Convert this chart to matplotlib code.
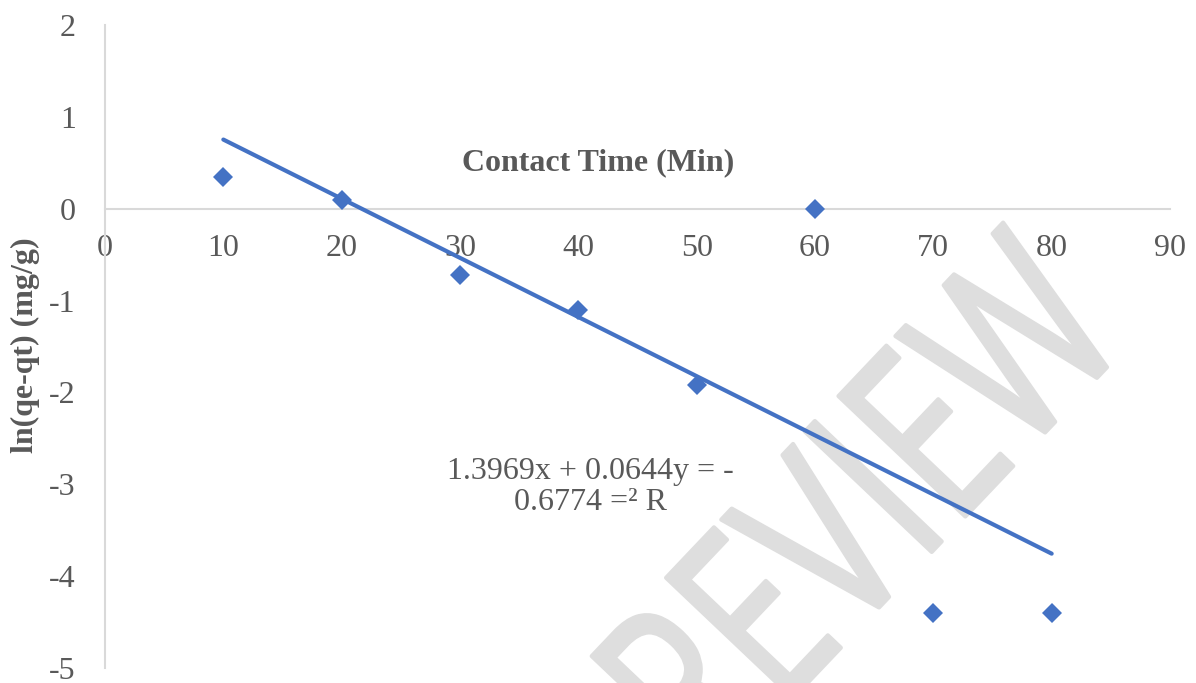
import matplotlib
matplotlib.use("Agg")
from matplotlib import pyplot as plt
from matplotlib.textpath import TextPath
from matplotlib.patches import PathPatch
from matplotlib.font_manager import FontProperties
from matplotlib.transforms import Affine2D
import numpy as np

plt.rcParams["axes.unicode_minus"] = False

# contact time (min) and ln(qe-qt) values
contact_time = [10, 20, 30, 40, 50, 60, 70, 80]
ln_qe_qt = [0.35, 0.10, -0.72, -1.10, -1.92, 0.0, -4.40, -4.40]

# trendline coefficients as printed on the chart
slope = -0.0644
intercept = 1.3969

x_ticks = [0, 10, 20, 30, 40, 50, 60, 70, 80, 90]
y_ticks = [-5, -4, -3, -2, -1, 0, 1, 2]

blue = "#4472C4"
grey_text = "#595959"
serif = "Liberation Serif"

W, H = 1196, 683
fig = plt.figure(figsize=(W / 100, H / 100), dpi=100)
ax = fig.add_axes([105 / W, 1 - 668 / H, 1065 / W, 643 / H])
ax.set_facecolor("none")
ax.set_zorder(2)

# "PREVIEW" watermark, condensed and rotated, drawn in pixel coords behind the axes
wm = TextPath((0, 0), "PREVIEW", size=1, prop=FontProperties(family="Open Sans"))
wm_right = wm.get_extents().x1
wm_tr = (Affine2D().translate(-wm_right, 0).scale(175, 245)
	.rotate_deg(46.5).translate(1130, H - 343))
fig.patches.append(PathPatch(wm, transform=wm_tr, facecolor="#dedede",
	edgecolor="#dedede", lw=3, joinstyle="round", zorder=0))

# trendline
xs = np.array([contact_time[0], contact_time[-1]])
ax.plot(xs, slope * xs + intercept, color=blue, lw=3, solid_capstyle="round", zorder=3)

# data points
ax.plot(contact_time, ln_qe_qt, linestyle="none", marker="D", markersize=10,
	color=blue, markeredgewidth=0, zorder=4)

ax.set_xlim(0, 90)
ax.set_ylim(-5, 2)
ax.set_xticks(x_ticks)
ax.set_yticks(y_ticks)

for side in ["top", "right"]:
	ax.spines[side].set_visible(False)
ax.spines["bottom"].set_position(("data", 0))
for side in ["bottom", "left"]:
	ax.spines[side].set_color("#d9d9d9")
	ax.spines[side].set_linewidth(1.5)

ax.tick_params(axis="x", length=0, labelsize=23, labelcolor=grey_text, pad=18)
ax.tick_params(axis="y", length=0, labelsize=23, labelcolor=grey_text, pad=21)
for lab in ax.get_xticklabels() + ax.get_yticklabels():
	lab.set_fontfamily(serif)

# axis titles
fig.text(598 / W, 1 - 163 / H, "Contact Time (Min)", family=serif,
	fontsize=23, fontweight="bold", color=grey_text, ha="center", va="center")
fig.text(25 / W, 1 - 345 / H, "ln(qe-qt) (mg/g)", family=serif,
	fontsize=23, fontweight="bold", color=grey_text, ha="center", va="center",
	rotation=90)

# trendline equation
fig.text(590 / W, 1 - 487 / H, "1.3969x + 0.0644y = -\n0.6774 =\u00b2 R",
	family=serif, fontsize=23, color=grey_text, ha="center", va="center",
	multialignment="center", linespacing=1.1)

fig.savefig("out.png", dpi=100)
